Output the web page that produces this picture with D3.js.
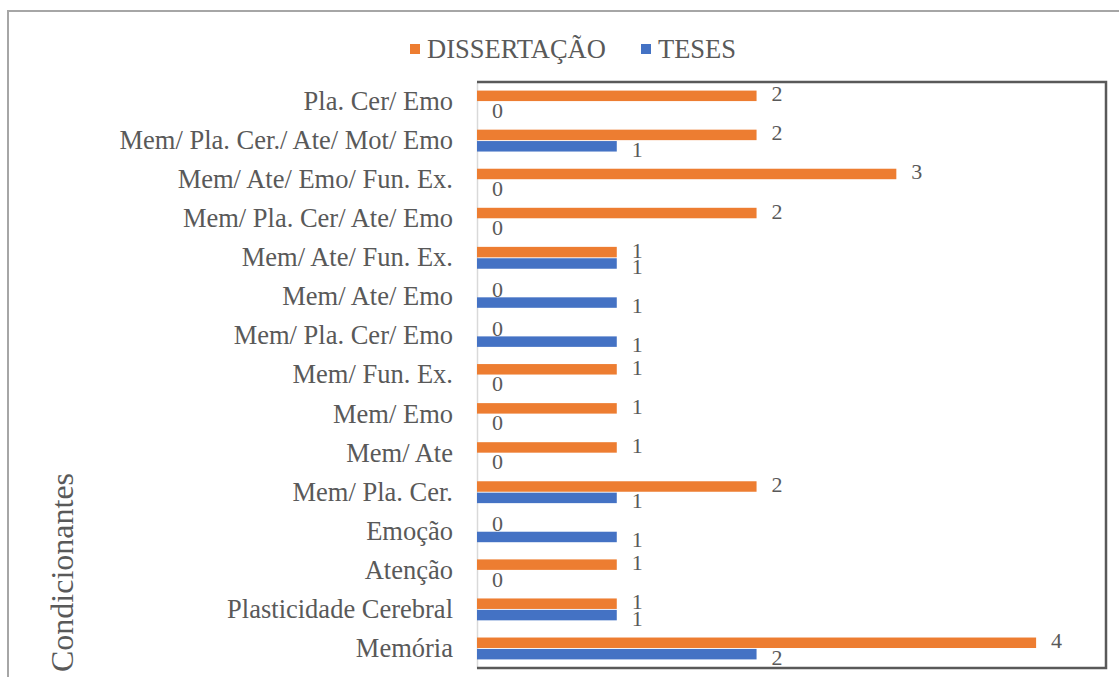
<!DOCTYPE html>
<html>
<head>
<meta charset="utf-8">
<script src="https://cdn.jsdelivr.net/npm/d3@7/dist/d3.min.js"></script>
<style>
  html, body { margin: 0; padding: 0; background: #fff; }
  svg { display: block; }
</style>
</head>
<body>
<svg id="chart" width="1119" height="677"></svg>
<script>
// Categories listed top to bottom
const categories = [
  "Pla. Cer/ Emo",
  "Mem/ Pla. Cer./ Ate/ Mot/ Emo",
  "Mem/ Ate/ Emo/ Fun. Ex.",
  "Mem/ Pla. Cer/ Ate/ Emo",
  "Mem/ Ate/ Fun. Ex.",
  "Mem/ Ate/ Emo",
  "Mem/ Pla. Cer/ Emo",
  "Mem/ Fun. Ex.",
  "Mem/ Emo",
  "Mem/ Ate",
  "Mem/ Pla. Cer.",
  "Emoção",
  "Atenção",
  "Plasticidade Cerebral",
  "Memória"
];
const dissertacao = [2, 2, 3, 2, 1, 0, 0, 1, 1, 1, 2, 0, 1, 1, 4];
const teses       = [0, 1, 0, 0, 1, 1, 1, 0, 0, 0, 1, 1, 0, 1, 2];
const seriesNames = ["DISSERTAÇÃO", "TESES"];
const seriesColors = ["#ED7D31", "#4472C4"];
const axisTitle = "Condicionantes";

const FONT = "'Liberation Serif', Tinos, 'Times New Roman', Times, 'DejaVu Serif', serif";
const TEXT_COLOR = "#595959";

const svg = d3.select("#chart");

// Outer chart frame
svg.append("path")
  .attr("d", "M8,677 L8,11 L1119,11")
  .attr("fill", "none")
  .attr("stroke", "#a6a6a6")
  .attr("stroke-width", 2);

const plot = { left: 477, right: 1106, top: 82, bottom: 668 };

const x = d3.scaleLinear().domain([0, 4.5]).range([plot.left, plot.right]);
const y = d3.scaleBand().domain(categories).range([plot.top, plot.bottom]).paddingInner(0.44).paddingOuter(0.22);
const ySub = d3.scaleBand().domain(seriesNames).range([0, y.bandwidth()]).paddingInner(0.08);

const rows = categories.map((c, i) => ({ cat: c, vals: [dissertacao[i], teses[i]] }));

// Category axis
const yAxis = svg.append("g")
  .attr("transform", `translate(${plot.left},0)`)
  .call(d3.axisLeft(y).tickSize(0).tickPadding(24))
  .attr("font-family", FONT)
  .attr("font-size", 26.5);
yAxis.select(".domain").attr("stroke", "#d9d9d9").attr("stroke-width", 1.5);
yAxis.selectAll("text").attr("fill", TEXT_COLOR);

// Bars
const groups = svg.append("g").selectAll("g")
  .data(rows)
  .join("g")
  .attr("transform", d => `translate(0,${y(d.cat)})`);

groups.selectAll("rect")
  .data(d => d.vals.map((v, k) => ({ v, k })))
  .join("rect")
  .attr("x", x(0))
  .attr("y", d => ySub(seriesNames[d.k]))
  .attr("width", d => x(d.v) - x(0))
  .attr("height", ySub.bandwidth())
  .attr("fill", d => seriesColors[d.k]);

// Value labels
groups.selectAll("text.val")
  .data(d => d.vals.map((v, k) => ({ v, k })))
  .join("text")
  .attr("class", "val")
  .attr("x", d => x(d.v) + 15)
  .attr("y", d => ySub(seriesNames[d.k]) + ySub.bandwidth() / 2 + (d.k === 0 ? -2 : 3))
  .attr("dominant-baseline", "central")
  .attr("font-family", FONT)
  .attr("font-size", 22)
  .attr("fill", TEXT_COLOR)
  .text(d => d.v);

// Plot border (top, right, bottom)
svg.append("path")
  .attr("d", `M${plot.left},${plot.top} L${plot.right},${plot.top} L${plot.right},${plot.bottom} L${plot.left},${plot.bottom}`)
  .attr("fill", "none")
  .attr("stroke", "#595959")
  .attr("stroke-width", 2.5);

// Axis title
svg.append("text")
  .attr("transform", "translate(73,672) rotate(-90)")
  .attr("text-anchor", "start")
  .attr("font-family", FONT)
  .attr("font-size", 32)
  .attr("fill", TEXT_COLOR)
  .text(axisTitle);

// Legend
const legend = svg.append("g");
const legendItems = [
  { name: seriesNames[0], color: seriesColors[0], x: 410 },
  { name: seriesNames[1], color: seriesColors[1], x: 641 }
];
legendItems.forEach(it => {
  legend.append("rect")
    .attr("x", it.x).attr("y", 44)
    .attr("width", 10).attr("height", 10)
    .attr("fill", it.color);
  legend.append("text")
    .attr("x", it.x + 17).attr("y", 49)
    .attr("dominant-baseline", "central")
    .attr("font-family", FONT)
    .attr("font-size", 26.5)
    .attr("fill", TEXT_COLOR)
    .text(it.name);
});
</script>
</body>
</html>
